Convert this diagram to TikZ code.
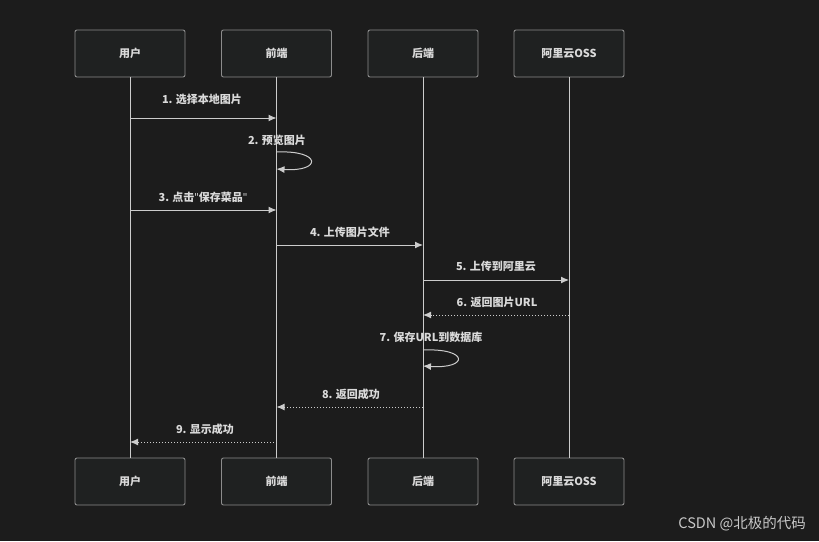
\documentclass[tikz,border=0pt]{standalone}
\usepackage{fontspec}
\setmainfont{Noto Sans CJK SC}
\newfontfamily\wmfont{Noto Sans CJK SC}
\newfontfamily\qfont{Noto Sans}
\newcommand{\straightq}{{\qfont\char"22}}
\usetikzlibrary{arrows.meta}
\definecolor{bg}{HTML}{1C1C1C}
\definecolor{boxfill}{HTML}{1F2121}
\definecolor{boxline}{HTML}{8C8C8C}
\definecolor{txt}{HTML}{DADADA}
\definecolor{wmc}{HTML}{C8C8C8}
\definecolor{ln}{HTML}{CCCCCC}
\begin{document}
\begin{tikzpicture}[x=1pt,y=-1pt,
  actor/.style={draw=boxline,fill=boxfill,rounded corners=2pt,line width=0.9pt,minimum width=110pt,minimum height=47pt,text=txt,font=\fontsize{11}{12}\selectfont\bfseries},
  life/.style={draw=ln,line width=1pt},
  msg/.style={draw=ln,line width=1pt,-{Latex[length=8pt,width=7pt]}},
  ret/.style={draw=ln,line width=1pt,dotted,-{Latex[length=8pt,width=7pt]}},
  lbl/.style={text=txt,font=\fontsize{11}{12}\selectfont\bfseries,inner sep=0pt}]
\fill[bg] (0,0) rectangle (819,541);
\useasboundingbox (0,0) rectangle (819,541);
% actors
\node[actor] (u1) at (130,53.5) {用户};
\node[actor] (f1) at (276.5,53.5) {前端};
\node[actor] (b1) at (423,53.5) {后端};
\node[actor] (o1) at (569,53.5) {阿里云OSS};
\node[actor] (u2) at (130,481.5) {用户};
\node[actor] (f2) at (276.5,481.5) {前端};
\node[actor] (b2) at (423,481.5) {后端};
\node[actor] (o2) at (569,481.5) {阿里云OSS};
\draw[life] (u1) -- (u2);
\draw[life] (f1) -- (f2);
\draw[life] (b1) -- (b2);
\draw[life] (o1) -- (o2);
% coordinates on lifelines
\coordinate (u118) at (130,118); \coordinate (f118) at (276.5,118);
\coordinate (f152) at (276.5,152); \coordinate (f169) at (276.5,169);
\coordinate (u210) at (130,210); \coordinate (f210) at (276.5,210);
\coordinate (f245) at (276.5,245); \coordinate (b245) at (423,245);
\coordinate (b280) at (423,280); \coordinate (o280) at (569,280);
\coordinate (o315) at (569,315); \coordinate (b315) at (423,315);
\coordinate (b350) at (423,350); \coordinate (b366) at (423,366);
\coordinate (b407) at (423,407); \coordinate (f407) at (276.5,407);
\coordinate (f442) at (276.5,442); \coordinate (u442) at (130,442);
% messages
\draw[msg] (u118) -- (f118);
\node[lbl] (l1) at (202,99) {1. 选择本地图片};
\draw[msg] (f152) .. controls (322,150) and (322,172) .. (f169);
\node[lbl] (l2) at (277,140) {2. 预览图片};
\draw[msg] (u210) -- (f210);
\node[lbl] (l3) at (203,197) {3. 点击\straightq 保存菜品\straightq};
\draw[msg] (f245) -- (b245);
\node[lbl] (l4) at (350,232) {4. 上传图片文件};
\draw[msg] (b280) -- (o280);
\node[lbl] (l5) at (496,266) {5. 上传到阿里云};
\draw[ret] (o315) -- (b315);
\node[lbl] (l6) at (497,302) {6. 返回图片URL};
\draw[msg] (b350) .. controls (469,348) and (469,369) .. (b366);
\node[lbl] (l7) at (431,337) {7. 保存URL到数据库};
\draw[ret] (b407) -- (f407);
\node[lbl] (l8) at (351,394) {8. 返回成功};
\draw[ret] (f442) -- (u442);
\node[lbl] (l9) at (205,429) {9. 显示成功};
\node[text=wmc,font=\wmfont\fontsize{14.5}{16}\selectfont,anchor=east,inner sep=0pt] (wm) at (806,524) {CSDN @北极的代码};
\end{tikzpicture}
\end{document}
